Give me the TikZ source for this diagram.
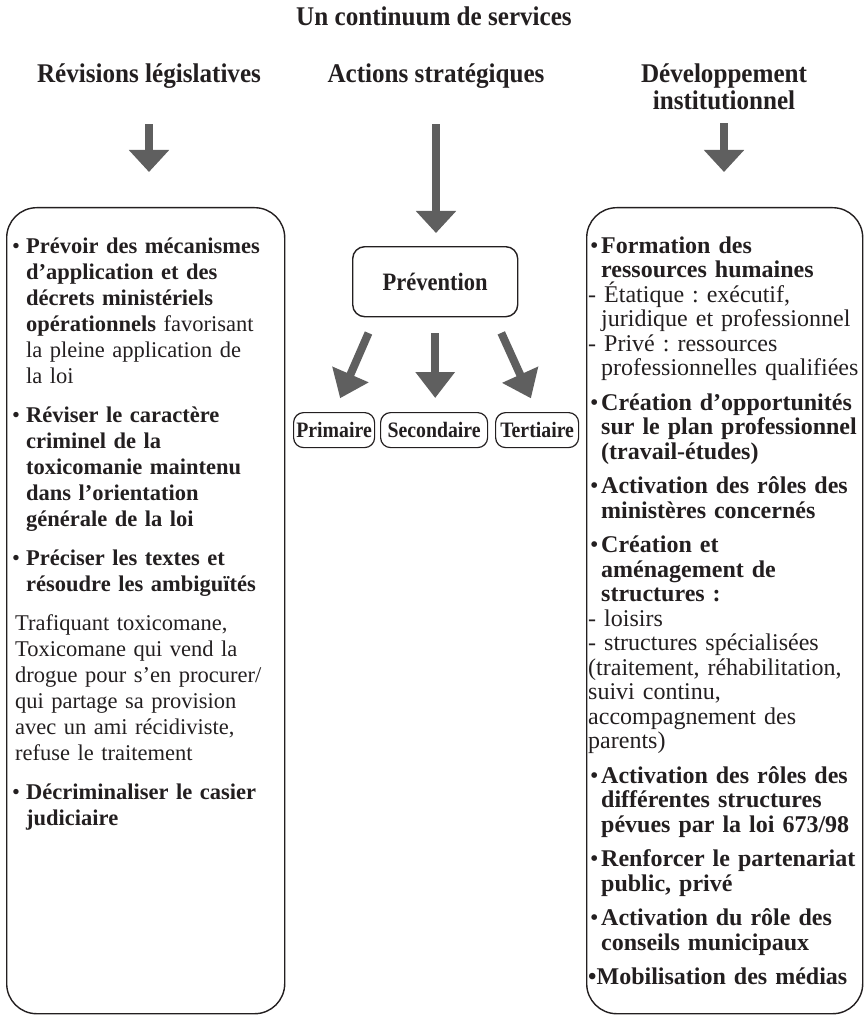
\documentclass[tikz,border=0pt]{standalone}
\usepackage{fontspec}
\setmainfont{Liberation Serif}
\newfontface\hdrfont[FakeStretch=0.93]{Liberation Serif Bold}
\newfontface\boxfont[FakeStretch=0.9]{Liberation Serif Bold}
\usetikzlibrary{arrows.meta,calc}
\definecolor{arrowgray}{HTML}{5F5F5F}
\definecolor{ink}{HTML}{231F20}
\newcommand{\lbul}{\makebox[14pt][l]{•}}
\newcommand{\lind}{\hspace*{14pt}}
\newcommand{\rbul}{\hspace*{2pt}\makebox[11pt][l]{•}}
\newcommand{\rind}{\hspace*{13pt}}
\newcommand{\lgap}{13pt}
\newcommand{\rgap}{10pt}
\frenchspacing
\tikzset{
  bigarrow/.style={draw=arrowgray, line width=7.5pt, -{Triangle[width=39pt,length=22pt]}},
  subarrow/.style={draw=arrowgray, line width=8pt, -{Triangle[width=38pt,length=26pt]}},
  bigbox/.style={draw=ink, line width=1.4pt, rounded corners=30pt, inner sep=0pt},
  prevbox/.style={draw=ink, line width=1.4pt, rounded corners=12pt, inner sep=0pt,
    minimum width=165pt, minimum height=70pt, text=ink, font=\fontsize{25}{27}\boxfont},
  smallbox/.style={draw=ink, line width=1.2pt, rounded corners=10pt, inner sep=0pt,
    minimum height=35pt, text=ink, font=\fontsize{22}{23}\boxfont},
  header/.style={inner sep=0pt, text=ink, font=\fontsize{27}{27}\hdrfont},
  column/.style={inner sep=0pt, text=ink, align=left, text width=300pt, anchor=north west}
}
\begin{document}
\begin{tikzpicture}[x=1pt,y=-1pt]
\useasboundingbox (0,0) rectangle (866,1016);
\node[header, anchor=base] (title) at (434,26) {Un continuum de services};
\node[header, anchor=base] (h1) at (149,83) {Révisions législatives};
\node[header, anchor=base] (h2) at (436,83) {Actions stratégiques};
\node[header, anchor=north, align=center] (h3) at (724,64) {Développement\\institutionnel};

\node[bigbox, anchor=north west, minimum width=278pt, minimum height=806pt] (b1) at (6,207) {};
\node[bigbox, anchor=north west, minimum width=276pt, minimum height=806pt] (b3) at (586,207) {};

\node[prevbox, anchor=north west] (prev) at (352,246) {Prévention};
\node[smallbox, anchor=north west, minimum width=81pt] (prim) at (293,412) {Primaire};
\node[smallbox, anchor=north west, minimum width=107pt] (sec) at (380,412) {Secondaire};
\node[smallbox, anchor=north west, minimum width=83pt] (ter) at (495,412) {Tertiaire};

\draw[bigarrow, shorten <=35pt, shorten >=35pt] (h1.south) -- (h1.south |- b1.north);
\draw[bigarrow, shorten <=35pt, shorten >=13pt] (h2.south) -- (h2.south |- prev.north);
\draw[bigarrow, shorten <=13pt, shorten >=35pt] (h3.south) -- (h3.south |- b3.north);

\draw[subarrow, shorten <=17pt, shorten >=15pt] ($(prev.south west)!0.14!(prev.south east)$) -- (prim.north);
\draw[subarrow, shorten <=16pt, shorten >=14pt] (prev.south) -- (prev.south |- sec.north);
\draw[subarrow, shorten <=17pt, shorten >=15pt] ($(prev.south west)!0.855!(prev.south east)$) -- (ter.north);

\node[column, font=\fontsize{22.5}{26}\selectfont] (c1) at (12,235) {\rule{0pt}{18pt}\lbul\textbf{Prévoir des mécanismes}\\
\lind\textbf{d’application et des}\\
\lind\textbf{décrets ministériels}\\
\lind\textbf{opérationnels} favorisant\\
\lind la pleine application de\\
\lind la loi\\[\lgap]
\lbul\textbf{Réviser le caractère}\\
\lind\textbf{criminel de la}\\
\lind\textbf{toxicomanie maintenu}\\
\lind\textbf{dans l’orientation}\\
\lind\textbf{générale de la loi}\\[\lgap]
\lbul\textbf{Préciser les textes et}\\
\lind\textbf{résoudre les ambiguïtés}\\[\lgap]
\hspace*{3pt}Trafiquant toxicomane,\\
\hspace*{3pt}Toxicomane qui vend la\\
\hspace*{3pt}drogue pour s’en procurer/\\
\hspace*{3pt}qui partage sa provision\\
\hspace*{3pt}avec un ami récidiviste,\\
\hspace*{3pt}refuse le traitement\\[\lgap]
\lbul\textbf{Décriminaliser le casier}\\
\lind\textbf{judiciaire}};

\node[column, font=\fontsize{24}{24.5}\selectfont] (c3) at (588,235) {\rule{0pt}{18pt}\rbul\textbf{Formation des}\\
\rind\textbf{ressources humaines}\\
- Étatique : exécutif,\\
\rind juridique et professionnel\\
- Privé : ressources\\
\rind professionnelles qualifiées\\[\rgap]
\rbul\textbf{Création d’opportunités}\\
\rind\textbf{sur le plan professionnel}\\
\rind\textbf{(travail-études)}\\[\rgap]
\rbul\textbf{Activation des rôles des}\\
\rind\textbf{ministères concernés}\\[\rgap]
\rbul\textbf{Création et}\\
\rind\textbf{aménagement de}\\
\rind\textbf{structures :}\\
- loisirs\\
- structures spécialisées\\
(traitement, réhabilitation,\\
suivi continu,\\
accompagnement des\\
parents)\\[\rgap]
\rbul\textbf{Activation des rôles des}\\
\rind\textbf{différentes structures}\\
\rind\textbf{pévues par la loi 673/98}\\[\rgap]
\rbul\textbf{Renforcer le partenariat}\\
\rind\textbf{public, privé}\\[\rgap]
\rbul\textbf{Activation du rôle des}\\
\rind\textbf{conseils municipaux}\\[\rgap]
\textbf{•Mobilisation des médias}};
\end{tikzpicture}
\end{document}
